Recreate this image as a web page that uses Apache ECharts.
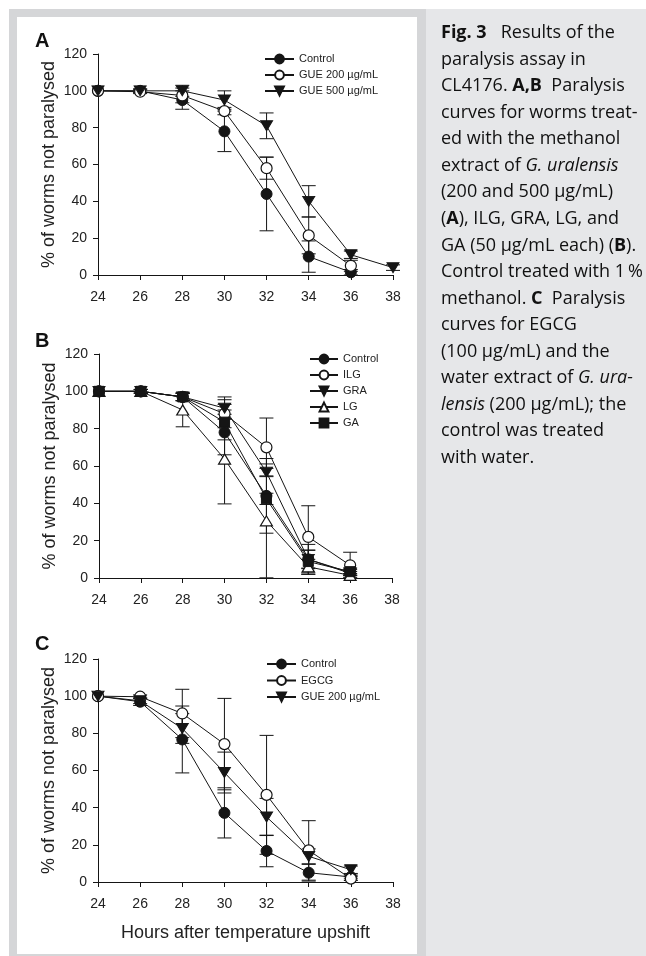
<!DOCTYPE html>
<html><head><meta charset="utf-8">
<script src="https://cdn.jsdelivr.net/npm/echarts@6/dist/echarts.min.js"></script>
<style>html,body{margin:0;padding:0;background:#fff}#c{width:646px;height:956px}</style>
</head><body><div id="c"></div>
<script>
// ---- data ----
const hours = [24, 26, 28, 30, 32, 34, 36, 38];
const xTicks = [24, 26, 28, 30, 32, 34, 36, 38];
const yTicks = [0, 20, 40, 60, 80, 100, 120];

// Panel A
const A_names = ['Control', 'GUE 200 µg/mL', 'GUE 500 µg/mL'];
const A_control     = [100, 100, 95, 78, 44, 10, 1.5, null];
const A_control_err = [0, 1, 5, 11, 20, 8.5, 1.5, null];
const A_gue200      = [100, 99.5, 97.5, 89, 58, 21.5, 5, null];
const A_gue200_err  = [0, 1, 4, 2, 6, 10, 3, null];
const A_gue500      = [100, 100, 100, 95, 81, 40, 11, 4];
const A_gue500_err  = [0, 1, 3, 5, 7, 8.5, 2, 1.5];

// Panel B
const B_names = ['Control', 'ILG', 'GRA', 'LG', 'GA'];
const B_control     = [100, 100, 97, 78, 44, 10, 3, null];
const B_control_err = [0, 1, 2, 12, 20, 8, 1.5, null];
const B_ilg         = [100, 100, 97, 88, 70, 22, 6.8, null];
const B_ilg_err     = [0, 1, 2, 7.5, 15.7, 16.7, 7, null];
const B_gra         = [100, 100, 97, 91, 56.7, 10, 2.5, null];
const B_gra_err     = [0, 1, 2, 6, 2, 5, 1, null];
const B_lg          = [100, 100, 90, 63.7, 30.6, 6, 1.4, null];
const B_lg_err      = [0, 1, 9, 24, 30.5, 4, 1, null];
const B_ga          = [100, 100, 97, 83.5, 42.4, 8.8, 3.4, null];
const B_ga_err      = [0, 1, 2, 9.5, 3, 6, 2, null];

// Panel C
const C_names = ['Control', 'EGCG', 'GUE 200 µg/mL'];
const C_control     = [100, 97, 76.7, 37.2, 16.7, 5, 2.7, null];
const C_control_err = [0, 2, 18, 13.5, 8.5, 4.5, 1, null];
const C_egcg        = [100, 99.7, 90.7, 74.2, 46.9, 17, 1.8, null];
const C_egcg_err    = [0, 1, 13, 24.6, 32, 16, 1, null];
const C_gue200      = [100, 97.5, 82.6, 58.9, 35, 13.8, 6.6, null];
const C_gue200_err  = [0, 1.5, 8, 11, 10, 4, 2, null];

const yTitle = '% of worms not paralysed';
const xTitle = 'Hours after temperature upshift';

const captionLines = [
  '{b|Fig. 3}   Results of the',
  'paralysis assay in',
  'CL4176. {b|A,B}  Paralysis',
  'curves for worms treat-',
  'ed with the methanol',
  'extract of {i|G. uralensis}',
  '(200 and 500 µg/mL)',
  '({b|A}), ILG, GRA, LG, and',
  'GA (50 µg/mL each) ({b|B}).',
  'Control treated with 1\u2009%',
  'methanol. {b|C}  Paralysis',
  'curves for EGCG',
  '(100 µg/mL) and the',
  'water extract of {i|G. ura-}',
  '{i|lensis} (200 µg/mL); the',
  'control was treated',
  'with water.'
];

// ---- styling ----
const INK = '#151515';
const FONT = '"Liberation Sans", Arial, sans-serif';
const CAPFONT = '"Open Sans", "Noto Sans", sans-serif';
const markers = {
  filledCircle: { symbol: 'circle', symbolSize: 11, symbolRotate: 0, itemStyle: { color: INK, borderColor: INK, borderWidth: 1 } },
  openCircle:   { symbol: 'circle', symbolSize: 11, symbolRotate: 0, itemStyle: { color: '#fff', borderColor: INK, borderWidth: 1.2 } },
  downTri:      { symbol: 'triangle', symbolSize: [12, 10], symbolRotate: 180, itemStyle: { color: INK, borderColor: INK, borderWidth: 1 } },
  openUpTri:    { symbol: 'triangle', symbolSize: [12, 10], symbolRotate: 0, itemStyle: { color: '#fff', borderColor: INK, borderWidth: 1.2 } },
  square:       { symbol: 'rect', symbolSize: 10, symbolRotate: 0, itemStyle: { color: INK, borderColor: INK, borderWidth: 1 } }
};

const panels = [
  { id: 'A', grid: { left: 98, top: 54, width: 295, height: 221 }, letterY: 42.5,
    legend: { left: 264, top: 53.5, itemWidth: 29, itemGap: 5 },
    series: [
      [A_names[0], A_control, A_control_err, 'filledCircle'],
      [A_names[1], A_gue200, A_gue200_err, 'openCircle'],
      [A_names[2], A_gue500, A_gue500_err, 'downTri']
    ] },
  { id: 'B', grid: { left: 99, top: 354, width: 293, height: 224 }, letterY: 342.5,
    legend: { left: 309, top: 353.5, itemWidth: 28, itemGap: 5 },
    series: [
      [B_names[0], B_control, B_control_err, 'filledCircle'],
      [B_names[1], B_ilg, B_ilg_err, 'openCircle'],
      [B_names[2], B_gra, B_gra_err, 'downTri'],
      [B_names[3], B_lg, B_lg_err, 'openUpTri'],
      [B_names[4], B_ga, B_ga_err, 'square']
    ] },
  { id: 'C', grid: { left: 98, top: 659, width: 295, height: 223 }, letterY: 645,
    legend: { left: 266, top: 658.5, itemWidth: 29, itemGap: 5.5 },
    series: [
      [C_names[0], C_control, C_control_err, 'filledCircle'],
      [C_names[1], C_egcg, C_egcg_err, 'openCircle'],
      [C_names[2], C_gue200, C_gue200_err, 'downTri']
    ] }
];

const option = {
  animation: false,
  backgroundColor: '#fff',
  grid: [], xAxis: [], yAxis: [], series: [], legend: [],
  graphic: []
};

// frame + caption background
option.graphic.push(
  { type: 'rect', z: -10, silent: true, shape: { x: 9, y: 9, width: 417, height: 947 }, style: { fill: '#d5d6d8' } },
  { type: 'rect', z: -9, silent: true, shape: { x: 17, y: 17, width: 400, height: 937 }, style: { fill: '#ffffff' } },
  { type: 'rect', z: -10, silent: true, shape: { x: 426, y: 9, width: 220, height: 947 }, style: { fill: '#e6e7e9' } },
  { type: 'text', z: 10, left: 441, top: 19.7, silent: true,
    style: {
      text: captionLines.join('\n'),
      fontFamily: CAPFONT, fontSize: 18, lineHeight: 26.55, fill: '#111',
      rich: {
        b: { fontWeight: 'bold', fontFamily: CAPFONT, fontSize: 18, lineHeight: 26.55, fill: '#111' },
        i: { fontStyle: 'italic', fontFamily: CAPFONT, fontSize: 18, lineHeight: 26.55, fill: '#111' }
      }
    } }
);

panels.forEach((p, pi) => {
  option.grid.push(Object.assign({ containLabel: false }, p.grid));
  option.xAxis.push({
    type: 'value', gridIndex: pi, min: xTicks[0], max: xTicks[xTicks.length - 1], interval: 2,
    axisLine: { lineStyle: { color: INK, width: 1 } },
    axisTick: { length: 5, lineStyle: { color: INK } },
    splitLine: { show: false },
    axisLabel: { color: '#222', fontFamily: FONT, fontSize: 14, margin: 15 },
    name: pi === 2 ? xTitle : '', nameLocation: 'middle', nameGap: 42,
    nameTextStyle: { color: '#222', fontFamily: FONT, fontSize: 18 }
  });
  option.yAxis.push({
    type: 'value', gridIndex: pi, min: yTicks[0], max: yTicks[yTicks.length - 1], interval: 20,
    axisLine: { show: true, lineStyle: { color: INK, width: 1 } },
    axisTick: { show: true, length: 5, lineStyle: { color: INK } },
    splitLine: { show: false },
    axisLabel: { color: '#222', fontFamily: FONT, fontSize: 14, margin: 11 },
    name: yTitle, nameLocation: 'middle', nameRotate: 90, nameGap: 40,
    nameTextStyle: { color: '#222', fontFamily: FONT, fontSize: 18 }
  });
  option.graphic.push({ type: 'text', left: 35, top: p.letterY - 11, silent: true,
    style: { text: p.id, fontFamily: FONT, fontWeight: 'bold', fontSize: 20, fill: '#111' } });

  const legendData = [];
  p.series.forEach(([name, vals, errs, mk]) => {
    const sname = p.id + '|' + name;
    legendData.push(sname);
    const m = markers[mk];
    // error bars
    const errData = [];
    vals.forEach((v, i) => { if (v != null && errs[i] != null) errData.push([hours[i], v, errs[i]]); });
    option.series.push({
      type: 'custom', name: sname + '_err', xAxisIndex: pi, yAxisIndex: pi, z: 1, silent: true, clip: false,
      data: errData,
      renderItem: function (params, api) {
        const x = api.value(0), y = api.value(1), e = api.value(2);
        if (!e) return null;
        const lo = api.coord([x, Math.max(0, y - e)]);
        const hi = api.coord([x, y + e]);
        const hw = 7;
        const st = { stroke: INK, lineWidth: 1 };
        return { type: 'group', children: [
          { type: 'line', shape: { x1: lo[0], y1: lo[1], x2: hi[0], y2: hi[1] }, style: st },
          { type: 'line', shape: { x1: lo[0] - hw, y1: lo[1], x2: lo[0] + hw, y2: lo[1] }, style: st },
          { type: 'line', shape: { x1: hi[0] - hw, y1: hi[1], x2: hi[0] + hw, y2: hi[1] }, style: st }
        ] };
      }
    });
    const lineData = [];
    vals.forEach((v, i) => { if (v != null) lineData.push([hours[i], v]); });
    option.series.push({
      type: 'line', name: sname, xAxisIndex: pi, yAxisIndex: pi, z: 3,
      data: lineData, symbol: m.symbol, symbolSize: m.symbolSize, symbolRotate: m.symbolRotate,
      showAllSymbol: true, itemStyle: m.itemStyle,
      lineStyle: { color: INK, width: 1 },
      emphasis: { disabled: true }
    });
  });
  option.legend.push({
    data: legendData, left: p.legend.left, top: p.legend.top, orient: 'vertical',
    itemWidth: p.legend.itemWidth, itemHeight: 11, itemGap: p.legend.itemGap, selectedMode: false,
    padding: 0,
    formatter: n => n.split('|')[1],
    textStyle: { color: '#222', fontFamily: FONT, fontSize: 11 }
  });
});

const chart = echarts.init(document.getElementById('c'), null, { renderer: 'canvas' });
chart.setOption(option);
</script>
</body></html>
